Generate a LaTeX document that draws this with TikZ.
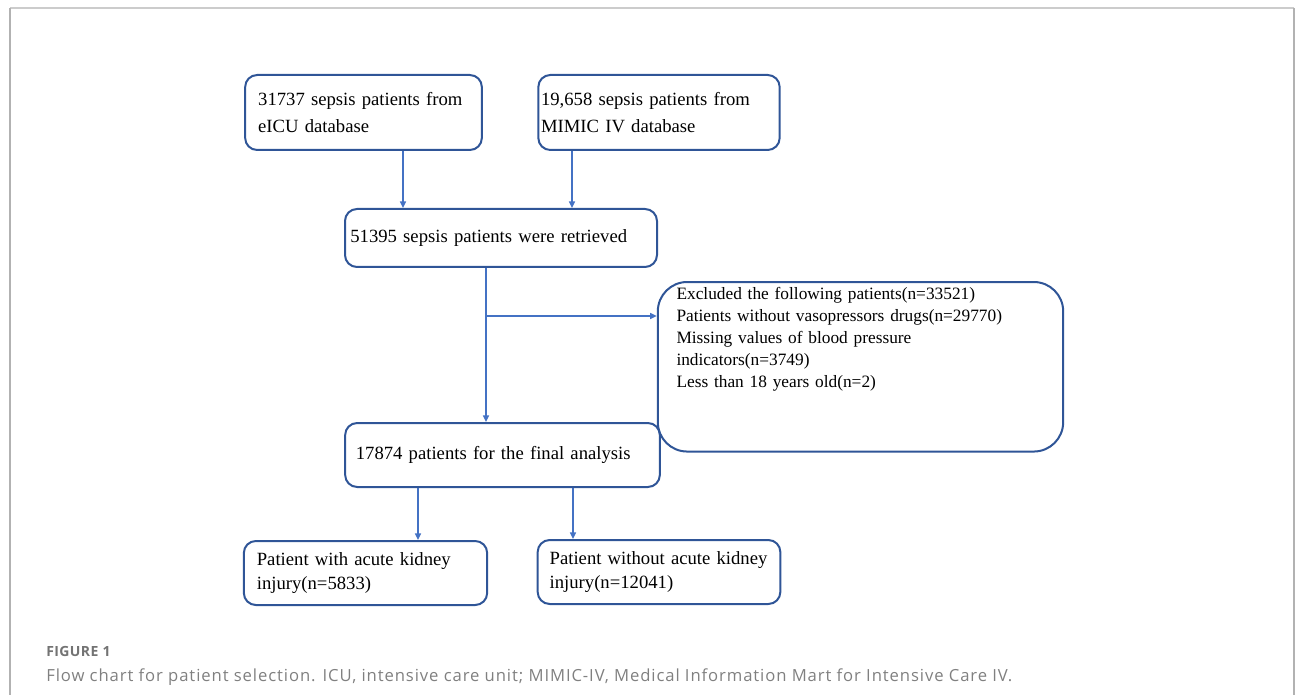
\documentclass[tikz,border=0pt]{standalone}
\usepackage{fontspec}
\setmainfont{Liberation Serif}
\newfontfamily\capfont[LetterSpace=5.4]{Open Sans}
\newfontfamily\figfont[LetterSpace=3]{Open Sans}
\definecolor{boxblue}{RGB}{47,85,151}
\definecolor{arrowblue}{RGB}{68,114,196}
\usetikzlibrary{arrows.meta}

\begin{document}
\begin{tikzpicture}[x=0.75pt,y=-0.75pt,
  flowbox/.style={draw=boxblue, line width=1.5pt, rounded corners=9pt, align=left,
    font=\fontsize{14pt}{17.5pt}\selectfont, inner ysep=4pt},
  flowarrow/.style={draw=arrowblue, line width=1.1pt, -{Triangle[length=5pt, width=4.5pt]}}]
\useasboundingbox (0,0) rectangle (1295,695);
\draw[black!20, line width=1.5pt] (10,8) -- (1294,8);
\draw[black!30, line width=0.8pt] (10,8) -- (10,695) (1294,8) -- (1294,695);
% boxes
\node[flowbox, text width=158pt, inner xsep=9.75pt, minimum height=56.25pt,
  font=\fontsize{14pt}{20pt}\selectfont] (eicu) at (363.5,112.5)
  {31737 sepsis patients from\\eICU database};
\node[flowbox, text width=177pt, inner xsep=2pt, minimum height=56.25pt,
  font=\fontsize{14pt}{20pt}\selectfont] (mimic) at (659,112.5)
  {19,658 sepsis patients from\\MIMIC IV database};
\node[flowbox, text width=226pt, inner xsep=4pt, minimum height=43.5pt] (sepsis) at (501,238)
  {51395 sepsis patients were retrieved};
\node[flowbox, rounded corners=22pt, text width=276pt, inner xsep=14pt, inner ysep=4pt, anchor=north,
  font=\fontsize{13pt}{16.5pt}\selectfont, text depth=110pt] (excl) at (860.5,281)
  {Excluded the following patients(n=33521)\\
   Patients without vasopressors drugs(n=29770)\\
   Missing values of blood pressure\\
   indicators(n=3749)\\
   Less than 18 years old(n=2)};
\node[flowbox, text width=220pt, inner xsep=8pt, minimum height=48pt] (final) at (502.5,455)
  {17874 patients for the final analysis};
\node[flowbox, text width=163pt, inner xsep=9.75pt, minimum height=48pt] (aki) at (365.5,573)
  {Patient with acute kidney\\injury(n=5833)};
\node[flowbox, text width=164pt, inner xsep=9pt, minimum height=48pt] (noaki) at (659,572)
  {Patient without acute kidney\\injury(n=12041)};
% connectors
\draw[flowarrow] (403,0 |- eicu.south) -- (403,0 |- sepsis.north);
\draw[flowarrow] (572,0 |- mimic.south) -- (572,0 |- sepsis.north);
\draw[flowarrow] (486,0 |- sepsis.south) -- (486,0 |- final.north);
\coordinate (split) at (486,316);
\draw[flowarrow] (split) -- (split -| excl.west);
\draw[flowarrow] (418,0 |- final.south) -- (418,0 |- aki.north);
\draw[flowarrow] (573,0 |- final.south) -- (573,0 |- noaki.north);
% caption
\node[anchor=base west, inner sep=0pt, text=black!55, font=\figfont\bfseries\fontsize{10.5pt}{12pt}\selectfont] (fig) at (46,656) {FIGURE 1};
\node[anchor=base west, inner sep=0pt, text=black!50, font=\capfont\fontsize{12.5pt}{14pt}\selectfont] (cap) at (46,681)
  {Flow chart for patient selection. ICU, intensive care unit; MIMIC-IV, Medical Information Mart for Intensive Care IV.};
\end{tikzpicture}
\end{document}
